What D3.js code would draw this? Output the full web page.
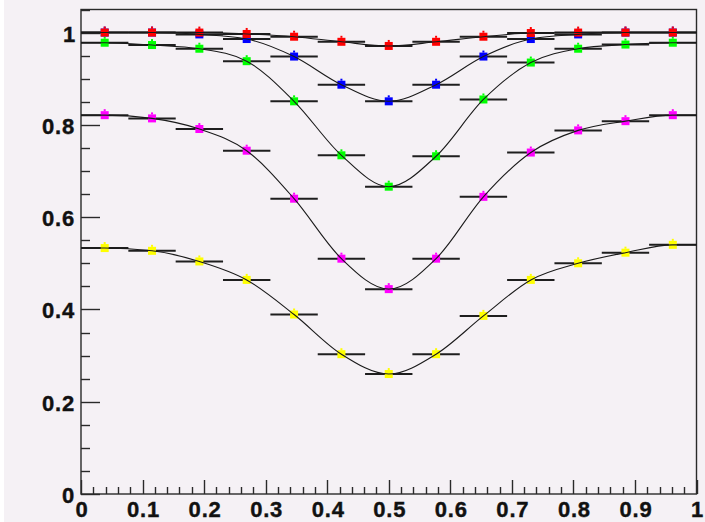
<!DOCTYPE html>
<html>
<head>
<meta charset="utf-8">
<script src="https://cdn.jsdelivr.net/npm/d3@7"></script>
<style>
  html, body { margin: 0; padding: 0; background: #ffffff; }
  svg { display: block; }
  .tick-label { font-family: "Liberation Sans", Arial, Helvetica, sans-serif; font-weight: bold; font-size: 22px; fill: #111; stroke: #111; stroke-width: 0.4px; letter-spacing: 0.8px; }
</style>
</head>
<body>
<svg id="chart" width="705" height="522"></svg>
<script>
// Bin centres along x (13 equal bins over [0, 1]) and the half width of each bin
const xCenters = [0.0385, 0.1154, 0.1923, 0.2692, 0.3462, 0.4231, 0.5, 0.5769, 0.6538, 0.7308, 0.8077, 0.8846, 0.9615];
const binHalfWidth = 0.0385;

// Measured efficiencies per series
const yellowValues  = [0.533, 0.527, 0.504, 0.464, 0.389, 0.303, 0.260, 0.303, 0.386, 0.464, 0.500, 0.523, 0.540];
const magentaValues = [0.821, 0.814, 0.791, 0.744, 0.640, 0.510, 0.444, 0.510, 0.644, 0.740, 0.788, 0.808, 0.821];
const greenValues   = [0.978, 0.973, 0.965, 0.938, 0.851, 0.734, 0.666, 0.732, 0.855, 0.935, 0.965, 0.974, 0.978];
const blueValues    = [1.000, 1.000, 0.996, 0.986, 0.948, 0.887, 0.851, 0.887, 0.948, 0.986, 0.996, 1.000, 1.000];
const redValues     = [1.000, 1.000, 1.000, 0.997, 0.991, 0.980, 0.971, 0.980, 0.991, 0.999, 1.000, 1.000, 1.000];

const seriesColors = ["#ffff00", "#ff00ff", "#00ff00", "#0000ff", "#ff0000"];
const seriesList = [yellowValues, magentaValues, greenValues, blueValues, redValues];

// Axis labels
const xTickLabels = ["0", "0.1", "0.2", "0.3", "0.4", "0.5", "0.6", "0.7", "0.8", "0.9", "1"];
const yTickLabels = ["0", "0.2", "0.4", "0.6", "0.8", "1"];

(function draw() {
  const svg = d3.select("#chart");
  const W = 705, H = 522;
  const padL = 81, padR = 696.5, padT = 9.5, padB = 494;

  svg.append("rect").attr("x", 4).attr("y", 0).attr("width", W - 4).attr("height", H).attr("fill", "#f5f1f5");

  const x = d3.scaleLinear().domain([0, 1]).range([padL, padR]);
  const y = d3.scaleLinear().domain([0, 1.05]).range([padB, padT]);

  const axisColor = "#2a2a2a";
  const g = svg.append("g");

  // Frame
  g.append("rect")
    .attr("x", padL).attr("y", padT)
    .attr("width", padR - padL).attr("height", padB - padT)
    .attr("fill", "none").attr("stroke", axisColor).attr("stroke-width", 1.4);

  // Y ticks (inside, pointing right)
  d3.range(0, 22).forEach(i => {
    const v = i * 0.05;
    const major = i % 4 === 0;
    const yy = Math.round(y(v)) + 0.5;
    g.append("line")
      .attr("x1", padL).attr("x2", padL + (major ? 19 : 9))
      .attr("y1", yy).attr("y2", yy)
      .attr("stroke", axisColor).attr("stroke-width", 1.4);
  });
  yTickLabels.forEach(t => {
    const v = +t;
    g.append("text").attr("class", "tick-label")
      .attr("x", t === "1" ? 76 : 75).attr("y", y(v) + 9)
      .attr("text-anchor", "end").text(t);
  });

  // X ticks (inside, pointing up)
  d3.range(0, 51).forEach(i => {
    const v = i * 0.02;
    const major = i % 5 === 0;
    const xx = Math.round(x(v)) + 0.5;
    g.append("line")
      .attr("x1", xx).attr("x2", xx)
      .attr("y1", padB).attr("y2", padB - (major ? 14 : 7))
      .attr("stroke", axisColor).attr("stroke-width", 1.4);
  });
  xTickLabels.forEach(t => {
    const v = +t;
    g.append("text").attr("class", "tick-label")
      .attr("x", x(v) + 1).attr("y", 517)
      .attr("text-anchor", "middle").text(t);
  });

  // Horizontal bin-width bars
  const plot = svg.append("g");
  seriesList.forEach(vals => {
    plot.append("g").selectAll("line").data(vals).join("line")
      .attr("x1", (d, i) => x(xCenters[i] - binHalfWidth))
      .attr("x2", (d, i) => x(xCenters[i] + binHalfWidth))
      .attr("y1", d => y(d)).attr("y2", d => y(d))
      .attr("stroke", "#1e1e1e").attr("stroke-width", 2);
  });

  // Markers: filled squares with a short stub on top
  seriesList.forEach((vals, s) => {
    const mg = plot.append("g").attr("fill", seriesColors[s]);
    mg.selectAll("rect.sq").data(vals).join("rect").attr("class", "sq")
      .attr("x", (d, i) => x(xCenters[i]) - 4)
      .attr("y", d => y(d) - 4)
      .attr("width", 8).attr("height", 8);
    mg.selectAll("rect.stub").data(vals).join("rect").attr("class", "stub")
      .attr("x", (d, i) => x(xCenters[i]) - 1)
      .attr("y", d => y(d) - 6)
      .attr("width", 2).attr("height", 2);
  });

  // Smooth curves across the full x range, flat at both ends
  const line = d3.line()
    .x(d => x(d[0])).y(d => y(d[1]))
    .curve(d3.curveMonotoneX);
  seriesList.forEach(vals => {
    const pts = [[0, vals[0]]]
      .concat(vals.map((v, i) => [xCenters[i], v]))
      .concat([[1, vals[vals.length - 1]]]);
    plot.append("path").attr("d", line(pts))
      .attr("fill", "none").attr("stroke", "#1a1a1a").attr("stroke-width", 1.1);
  });
})();
</script>
</body>
</html>
